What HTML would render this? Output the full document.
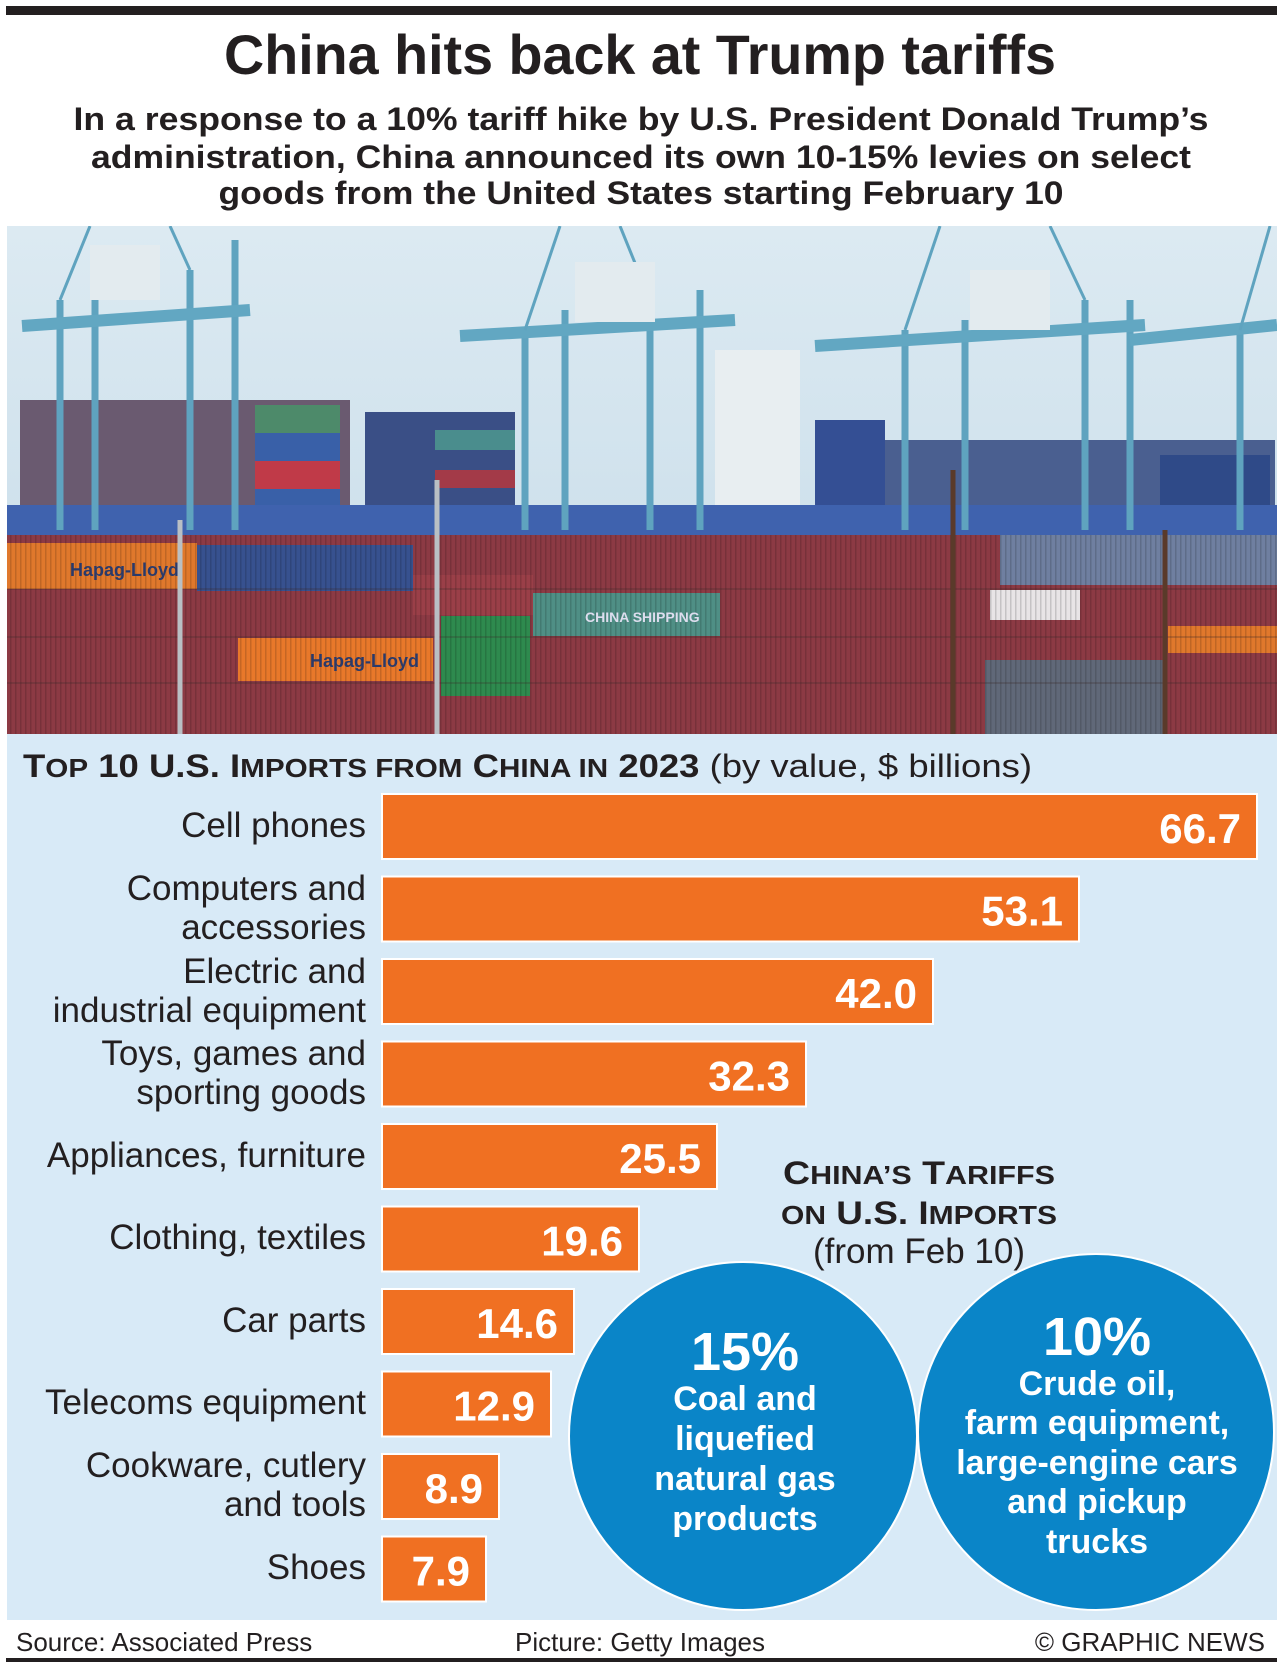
<!DOCTYPE html>
<html><head><meta charset="utf-8"><style>
html,body{margin:0;padding:0;background:#fff}
svg{display:block}
text{font-family:"Liberation Sans",Arial,sans-serif}
</style></head><body>
<svg width="1279" height="1667" viewBox="0 0 1279 1667" xmlns="http://www.w3.org/2000/svg">
<rect width="1279" height="1667" fill="#fff"/>
<rect x="6" y="6" width="1271" height="9" fill="#231f20"/>
<text x="640" y="74" text-anchor="middle" font-size="56" font-weight="bold" fill="#231f20" textLength="832" lengthAdjust="spacingAndGlyphs">China hits back at Trump tariffs</text>
<g font-size="32" font-weight="bold" fill="#231f20" text-anchor="middle">
<text x="641" y="130" textLength="1135" lengthAdjust="spacingAndGlyphs">In a response to a 10% tariff hike by U.S. President Donald Trump’s</text>
<text x="641" y="168" textLength="1100" lengthAdjust="spacingAndGlyphs">administration, China announced its own 10-15% levies on select</text>
<text x="641" y="204" textLength="845" lengthAdjust="spacingAndGlyphs">goods from the United States starting February 10</text>
</g>
<defs>
<linearGradient id="sky" x1="0" y1="0" x2="0" y2="1"><stop offset="0" stop-color="#dceaf2"/><stop offset="1" stop-color="#c6dbe8"/></linearGradient>
<pattern id="rib" width="5" height="10" patternUnits="userSpaceOnUse"><rect width="1.5" height="10" fill="#000" opacity="0.15"/></pattern>
<clipPath id="pc"><rect x="7" y="226" width="1270" height="508"/></clipPath>
</defs>
<g clip-path="url(#pc)">
<rect x="7" y="226" width="1270" height="508" fill="url(#sky)"/>
<rect x="20" y="400" width="330" height="135" fill="#6a5a70"/>
<rect x="255" y="405" width="85" height="28" fill="#4d8a6a"/>
<rect x="255" y="433" width="85" height="28" fill="#3960a8"/>
<rect x="255" y="461" width="85" height="28" fill="#c03a48"/>
<rect x="255" y="489" width="85" height="25" fill="#3960a8"/>
<rect x="365" y="412" width="150" height="110" fill="#3a4f86"/>
<rect x="435" y="430" width="80" height="20" fill="#4a8d8d"/>
<rect x="435" y="470" width="80" height="18" fill="#a33a48"/>
<rect x="715" y="350" width="85" height="190" fill="#e8eef1"/>
<rect x="815" y="420" width="70" height="100" fill="#344f94"/>
<rect x="885" y="440" width="390" height="95" fill="#4a5f90"/>
<rect x="1160" y="455" width="110" height="70" fill="#2f4a88"/>
<rect x="7" y="505" width="1270" height="35" fill="#3f62ae"/>
<g stroke="#5fa3bf" stroke-width="7" fill="none">
<line x1="60" y1="300" x2="60" y2="530"/><line x1="95" y1="290" x2="95" y2="530"/>
<line x1="190" y1="270" x2="190" y2="530"/><line x1="235" y1="240" x2="235" y2="530"/>
<line x1="525" y1="330" x2="525" y2="530"/><line x1="565" y1="310" x2="565" y2="530"/>
<line x1="650" y1="300" x2="650" y2="530"/><line x1="700" y1="290" x2="700" y2="530"/>
<line x1="905" y1="330" x2="905" y2="530"/><line x1="965" y1="320" x2="965" y2="530"/>
<line x1="1085" y1="300" x2="1085" y2="530"/><line x1="1130" y1="300" x2="1130" y2="530"/>
<line x1="1240" y1="330" x2="1240" y2="530"/>
</g>
<g stroke="#62a7c2" stroke-width="12">
<line x1="22" y1="326" x2="250" y2="310"/><line x1="460" y1="336" x2="735" y2="320"/>
<line x1="815" y1="346" x2="1145" y2="325"/><line x1="1130" y1="340" x2="1277" y2="325"/>
</g>
<g stroke="#5fa3bf" stroke-width="3">
<line x1="60" y1="300" x2="90" y2="226"/><line x1="190" y1="270" x2="170" y2="226"/>
<line x1="525" y1="330" x2="560" y2="226"/><line x1="650" y1="300" x2="620" y2="226"/>
<line x1="905" y1="330" x2="940" y2="226"/><line x1="1085" y1="300" x2="1050" y2="226"/>
<line x1="1240" y1="330" x2="1270" y2="226"/>
</g>
<rect x="90" y="245" width="70" height="55" fill="#e3ebef"/>
<rect x="575" y="262" width="80" height="60" fill="#e3ebef"/>
<rect x="970" y="270" width="80" height="60" fill="#e3ebef"/>
<rect x="7" y="535" width="1270" height="199" fill="#8c3a44"/>
<rect x="7" y="543" width="190" height="46" fill="#e0782c"/>
<rect x="197" y="545" width="216" height="46" fill="#37518f"/>
<rect x="413" y="575" width="120" height="40" fill="#9a3f48"/>
<rect x="533" y="593" width="187" height="43" fill="#4f8f85"/>
<rect x="441" y="616" width="89" height="80" fill="#2e8a4e"/>
<rect x="238" y="638" width="195" height="43" fill="#e8782a"/>
<rect x="1000" y="535" width="277" height="50" fill="#6f7fa0"/>
<rect x="990" y="590" width="90" height="30" fill="#e8e4e6"/>
<rect x="1168" y="626" width="109" height="27" fill="#e0782c"/>
<rect x="985" y="660" width="180" height="74" fill="#606878"/>
<rect x="7" y="535" width="1270" height="199" fill="url(#rib)"/>
<g stroke="#3a2a2a" stroke-width="1" opacity="0.5">
<line x1="7" y1="589" x2="1277" y2="589"/><line x1="7" y1="637" x2="1277" y2="637"/><line x1="7" y1="683" x2="1277" y2="683"/>
</g>
<text x="70" y="576" font-size="18" font-weight="bold" fill="#2a3a6a">Hapag-Lloyd</text>
<text x="310" y="667" font-size="18" font-weight="bold" fill="#2a3a6a">Hapag-Lloyd</text>
<text x="585" y="622" font-size="14" font-weight="bold" fill="#dde">CHINA SHIPPING</text>
<g stroke="#b9bfc4" stroke-width="5"><line x1="180" y1="520" x2="180" y2="734"/><line x1="437" y1="480" x2="437" y2="734"/></g>
<g stroke="#5a3a2a" stroke-width="5"><line x1="953" y1="470" x2="953" y2="734"/><line x1="1165" y1="530" x2="1165" y2="734"/></g>
</g>
<rect x="7" y="734" width="1270" height="886" fill="#d8eaf7"/>
<text x="23" y="777" font-size="32" fill="#231f20" textLength="1009" lengthAdjust="spacingAndGlyphs"><tspan font-weight="bold">T<tspan font-size="26">OP</tspan> 10 U.S. I<tspan font-size="26">MPORTS FROM</tspan> C<tspan font-size="26">HINA IN</tspan> 2023</tspan> (by value, $ billions)</text>
<g fill="#f07022" stroke="#fff" stroke-width="2">
<rect x="382" y="794" width="875" height="65"/>
<rect x="382" y="876.5" width="697" height="65"/>
<rect x="382" y="959" width="551" height="65"/>
<rect x="382" y="1041.5" width="424" height="65"/>
<rect x="382" y="1124" width="335" height="65"/>
<rect x="382" y="1206.5" width="257" height="65"/>
<rect x="382" y="1289" width="192" height="65"/>
<rect x="382" y="1371.5" width="169" height="65"/>
<rect x="382" y="1454" width="117" height="65"/>
<rect x="382" y="1536.5" width="104" height="65"/>
</g>
<g font-size="42" font-weight="bold" fill="#fff" text-anchor="end">
<text x="1241" y="843">66.7</text>
<text x="1063" y="925.5">53.1</text>
<text x="917" y="1008">42.0</text>
<text x="790" y="1090.5">32.3</text>
<text x="701" y="1173">25.5</text>
<text x="623" y="1255.5">19.6</text>
<text x="558" y="1338">14.6</text>
<text x="535" y="1420.5">12.9</text>
<text x="483" y="1503">8.9</text>
<text x="470" y="1585.5">7.9</text>
</g>
<g font-size="35" fill="#231f20" text-anchor="end">
<text x="366" y="837">Cell phones</text>
<text x="366" y="900">Computers and</text><text x="366" y="939">accessories</text>
<text x="366" y="983">Electric and</text><text x="366" y="1022">industrial equipment</text>
<text x="366" y="1065">Toys, games and</text><text x="366" y="1104">sporting goods</text>
<text x="366" y="1167">Appliances, furniture</text>
<text x="366" y="1249">Clothing, textiles</text>
<text x="366" y="1332">Car parts</text>
<text x="366" y="1414">Telecoms equipment</text>
<text x="366" y="1477">Cookware, cutlery</text><text x="366" y="1516">and tools</text>
<text x="366" y="1579">Shoes</text>
</g>
<g text-anchor="middle" fill="#231f20">
<text x="919" y="1184" font-size="32" font-weight="bold" textLength="272" lengthAdjust="spacingAndGlyphs">C<tspan font-size="26">HINA’S</tspan> T<tspan font-size="26">ARIFFS</tspan></text>
<text x="919" y="1224" font-size="32" font-weight="bold" textLength="276" lengthAdjust="spacingAndGlyphs"><tspan font-size="26">ON</tspan> U.S. I<tspan font-size="26">MPORTS</tspan></text>
<text x="919" y="1263" font-size="35">(from Feb 10)</text>
</g>
<circle cx="743" cy="1436" r="174" fill="#0a85c8" stroke="#fff" stroke-width="2"/>
<circle cx="1096" cy="1432" r="178" fill="#0a85c8" stroke="#fff" stroke-width="2"/>
<g text-anchor="middle" fill="#fff" font-weight="bold">
<text x="745" y="1370" font-size="54">15%</text>
<g font-size="34"><text x="745" y="1410">Coal and</text><text x="745" y="1450">liquefied</text><text x="745" y="1490">natural gas</text><text x="745" y="1530">products</text></g>
<text x="1097" y="1355" font-size="54">10%</text>
<g font-size="34"><text x="1097" y="1395">Crude oil,</text><text x="1097" y="1434">farm equipment,</text><text x="1097" y="1474">large-engine cars</text><text x="1097" y="1513">and pickup</text><text x="1097" y="1553">trucks</text></g>
</g>
<g font-size="26" fill="#231f20">
<text x="16" y="1651">Source: Associated Press</text>
<text x="515" y="1651">Picture: Getty Images</text>
<text x="1265" y="1651" text-anchor="end">© GRAPHIC NEWS</text>
</g>
<rect x="6" y="1658" width="1271" height="4" fill="#231f20"/>
</svg>
</body></html>
